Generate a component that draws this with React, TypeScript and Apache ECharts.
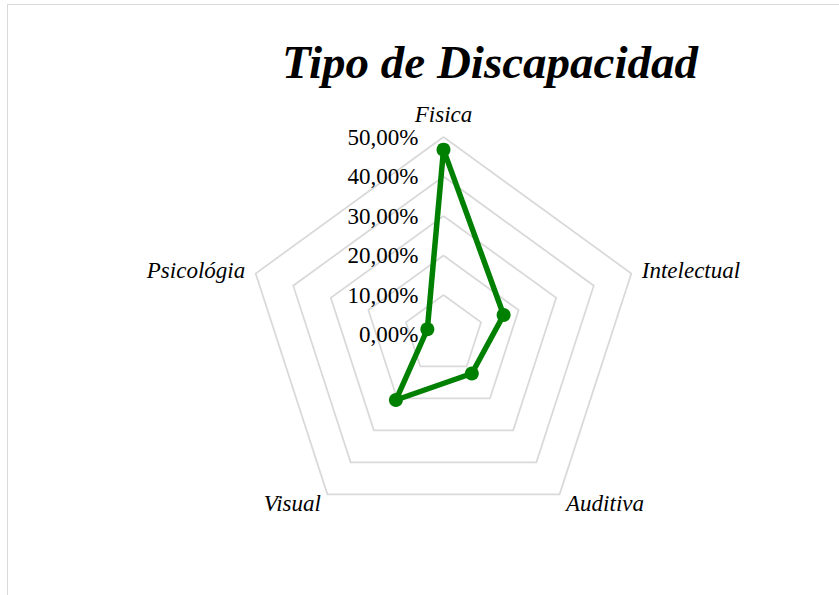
import React, { useEffect, useRef } from "react";
import * as echarts from "echarts";

// Radar categories, listed counter-clockwise from the top (ECharts' default direction)
const categories = ["Fisica", "Psicológia", "Visual", "Auditiva", "Intelectual"];
// Share of each type of disability (percent)
const values = [46.8, 4.3, 20.5, 12.2, 16.0];
const axisMin = 0;
const axisMax = 50;
const axisInterval = 10;
const chartTitle = "Tipo de Discapacidad";
const seriesName = "Tipo de Discapacidad";

const serif = "'Liberation Serif', 'DejaVu Serif', serif";

const fmtPct = (v: number) => v.toFixed(2).replace(".", ",") + "%";

export default function App() {
  const ref = useRef<HTMLDivElement>(null);

  useEffect(() => {
    if (!ref.current) return;
    const chart = echarts.init(ref.current, undefined, { renderer: "svg" });
    const option: any = {
      animation: false,
      backgroundColor: "transparent",
      title: {
        text: chartTitle,
        left: 282,
        top: 38,
        padding: 0,
        textStyle: {
          fontFamily: serif,
          fontStyle: "italic",
          fontWeight: "bold",
          fontSize: 47,
          color: "#000",
        },
      },
      radar: {
        center: [443.5, 334.5],
        radius: 197.5,
        startAngle: 90,
        shape: "polygon",
        splitNumber: (axisMax - axisMin) / axisInterval,
        indicator: categories.map((name, i) => ({
          name,
          min: axisMin,
          max: axisMax,
          ...(i === 0 ? { axisLabel: { show: true } } : {}),
        })),
        nameGap: 11,
        axisName: {
          color: "#000",
          fontFamily: serif,
          fontStyle: "italic",
          fontSize: 23,
        },
        axisLine: { show: false },
        axisTick: { show: false },
        splitArea: { show: false },
        splitLine: { lineStyle: { color: "#d9d9d9", width: 1.75 } },
        axisLabel: {
          show: false,
          margin: 25,
          color: "#000",
          fontFamily: serif,
          fontSize: 23,
          formatter: (v: number) => fmtPct(v),
        },
      },
      series: [
        {
          name: seriesName,
          type: "radar",
          symbol: "circle",
          symbolSize: 14,
          lineStyle: { color: "#008000", width: 5.5 },
          itemStyle: { color: "#008000" },
          data: [{ value: values, name: seriesName }],
        },
      ],
    };
    chart.setOption(option);
    return () => chart.dispose();
  }, []);

  return (
    <div style={{ position: "fixed", left: 0, top: 0, width: 839, height: 595, overflow: "hidden", background: "#fff" }}>
      <div
        style={{
          position: "absolute",
          left: 7,
          top: 4,
          width: 860,
          height: 640,
          border: "1.5px solid #d9d9d9",
          boxSizing: "border-box",
        }}
      />
      <div ref={ref} style={{ position: "absolute", left: 0, top: 0, width: 839, height: 595 }} />
    </div>
  );
}
